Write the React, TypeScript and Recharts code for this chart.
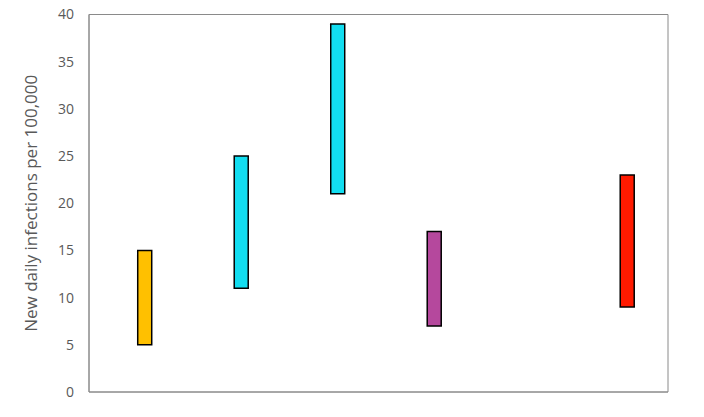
import React from 'react';
import { ComposedChart, Bar, XAxis, YAxis, Cell, ReferenceArea } from 'recharts';

const positions = [1, 2, 3, 4, 6];
const lows = [5, 11, 21, 7, 9];
const highs = [15, 25, 39, 17, 23];
const colors = ['#FFC000', '#12DDF0', '#12DDF0', '#B5489D', '#FF1A00'];
const yTicks = [0, 5, 10, 15, 20, 25, 30, 35, 40];
const yLabel = 'New daily infections per 100,000';

const data = positions.map((x, i) => ({ x, range: [lows[i], highs[i]] }));

const FONT = '"Open Sans", sans-serif';

const YLabel = (props: any) => {
  const vb = props.viewBox || {};
  const cy = (vb.y || 0) + (vb.height || 0) / 2;
  const cx = 30;
  return (
    <text
      x={cx}
      y={cy}
      transform={`rotate(-90, ${cx}, ${cy})`}
      textAnchor="middle"
      dominantBaseline="central"
      fill="#595959"
      fontSize={17}
      fontFamily={FONT}
    >
      {yLabel}
    </text>
  );
};

export default function App() {
  return (
    <div style={{ margin: -8, width: 704, height: 417 }}>
      <ComposedChart
        width={704}
        height={417}
        data={data}
        margin={{ top: 14.5, right: 36, bottom: 0, left: 0 }}
      >
        <XAxis
          dataKey="x"
          type="number"
          domain={[0.42, 6.42]}
          allowDataOverflow
          tick={false}
          tickLine={false}
          height={25}
          axisLine={{ stroke: '#8a8a8a', strokeWidth: 1 }}
        />
        <YAxis
          type="number"
          domain={[0, 40]}
          ticks={yTicks}
          interval={0}
          width={89}
          tickLine={false}
          tickSize={6}
          tickMargin={9}
          axisLine={{ stroke: '#8a8a8a', strokeWidth: 1 }}
          tick={{ fill: '#595959', fontSize: 14, fontFamily: FONT }}
          label={<YLabel />}
        />
        <ReferenceArea
          x1={0.42}
          x2={6.42}
          y1={0}
          y2={40}
          fill="none"
          stroke="#8a8a8a"
          strokeWidth={1}
          ifOverflow="visible"
        />
        <Bar dataKey="range" barSize={14} isAnimationActive={false} stroke="#000" strokeWidth={1.5}>
          {data.map((d, i) => (
            <Cell key={i} fill={colors[i]} />
          ))}
        </Bar>
      </ComposedChart>
    </div>
  );
}
